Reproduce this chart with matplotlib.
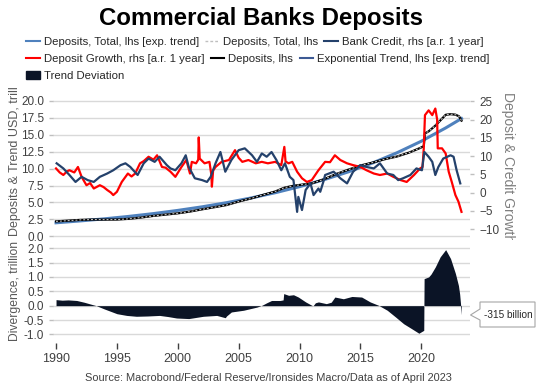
import numpy as np
import matplotlib.pyplot as plt
from matplotlib.lines import Line2D
from matplotlib.patches import Patch, Polygon
from matplotlib.transforms import Bbox, TransformedBbox

plt.rcParams['font.family'] = ['Liberation Sans', 'DejaVu Sans']

# deposits level (trillion USD, lhs)
dep_years = [1990, 1991, 1992, 1993, 1994, 1995, 1996, 1997, 1998, 1999, 2000, 2001, 2002,
             2003, 2004, 2005, 2006, 2007, 2008, 2008.75, 2009.5, 2010.5, 2011, 2012, 2013,
             2014, 2015, 2016, 2017, 2018, 2019, 2019.9, 2020.2, 2020.3, 2020.6, 2021.15,
             2021.55, 2022.0, 2022.4, 2022.8, 2023.1, 2023.3]
deposits = [2.21, 2.32, 2.43, 2.48, 2.47, 2.48, 2.59, 2.78, 3.02, 3.21, 3.40, 3.66, 3.99,
            4.30, 4.62, 5.14, 5.59, 6.12, 6.62, 7.18, 7.47, 7.71, 7.82, 8.43, 9.20,
            9.84, 10.46, 10.89, 11.39, 11.79, 12.37, 13.05, 13.32, 15.21, 15.50, 16.35,
            17.10, 17.95, 18.04, 17.97, 17.73, 17.09]

# exponential trend (lhs)
trend_years = [1990, 1992, 1994, 1996, 1998, 2000, 2002, 2004, 2006, 2008, 2010, 2012,
               2014, 2016, 2018, 2020, 2022, 2023.3]
trend = [2.00, 2.28, 2.59, 2.95, 3.36, 3.83, 4.36, 4.97, 5.66, 6.44, 7.34, 8.36,
         9.52, 10.84, 12.34, 14.05, 16.01, 17.40]

# deposit growth, % a.r. 1 year (rhs)
gr_years = [1990.0, 1990.3, 1990.6, 1990.9, 1991.1, 1991.5, 1991.8, 1992.1, 1992.5, 1992.8,
            1993.1, 1993.6, 1993.9, 1994.2, 1994.5, 1994.7, 1995.0, 1995.4, 1995.9, 1996.2,
            1996.5, 1996.9, 1997.2, 1997.6, 1998.0, 1998.3, 1998.7, 1999.0, 1999.4, 1999.8,
            2000.3, 2000.7, 2001.0, 2001.15, 2001.5, 2001.68, 2001.72, 2001.8, 2002.2, 2002.6,
            2002.75, 2002.8, 2002.9, 2003.1, 2003.6, 2004.2, 2004.7, 2005.0, 2005.3, 2005.8,
            2006.4, 2006.9, 2007.4, 2008.0, 2008.5, 2008.75, 2008.85, 2009.1, 2009.4, 2009.8,
            2010.2, 2010.6, 2011.0, 2011.55, 2012.1, 2012.5, 2012.9, 2013.35, 2013.9, 2014.4,
            2015.0, 2015.5, 2016.1, 2016.6, 2017.2, 2017.7, 2018.3, 2018.8, 2019.4, 2019.9,
            2020.1, 2020.2, 2020.3, 2020.6, 2020.9, 2021.15, 2021.3, 2021.35, 2021.7, 2022.0,
            2022.25, 2022.5, 2022.8, 2023.05, 2023.3]
dep_growth = [6.6, 5.5, 4.8, 5.8, 6.1, 5.5, 7.0, 4.3, 2.0, 2.6,
              1.1, 2.0, 1.5, 0.7, 0.0, -0.7, 0.2, 2.9, 5.2, 4.4,
              5.2, 8.0, 8.6, 9.8, 9.0, 10.2, 7.0, 6.8, 5.7, 4.3,
              7.0, 8.9, 5.2, 8.4, 8.0, 9.0, 15.1, 9.3, 8.0, 8.4,
              5.0, 1.6, 6.0, 7.0, 8.4, 8.9, 11.6, 9.5, 8.4, 8.9,
              8.0, 8.4, 8.0, 8.4, 7.5, 12.5, 8.5, 8.0, 8.4, 5.7,
              3.9, 2.9, 3.4, 6.1, 8.4, 8.3, 10.2, 8.9, 8.0, 7.5,
              7.0, 6.1, 5.2, 4.8, 5.2, 4.3, 3.4, 2.9, 4.8, 6.6,
              7.0, 12.0, 21.2, 22.5, 21.2, 23.0, 20.0, 12.1, 12.1, 10.7,
              5.7, 2.9, -0.7, -2.5, -5.3]

# bank credit, % a.r. 1 year (rhs)
bc_years = [1990.05, 1990.6, 1991.1, 1991.6, 1992.1, 1992.6, 1993.1, 1993.6, 1994.2, 1994.7,
            1995.3, 1995.7, 1996.1, 1996.7, 1997.2, 1997.6, 1998.1, 1998.5, 1999.1, 1999.4,
            1999.8, 2000.3, 2000.65, 2000.9, 2001.4, 2002.0, 2002.4, 2002.7, 2003.1, 2003.5,
            2003.9, 2004.4, 2005.0, 2005.5, 2006.1, 2006.5, 2006.9, 2007.3, 2007.7, 2008.1,
            2008.5, 2008.8, 2009.2, 2009.5, 2009.8, 2009.9, 2010.2, 2010.5, 2010.9, 2011.15,
            2011.55, 2011.7, 2011.95, 2012.1, 2012.8, 2013.35, 2013.9, 2014.4, 2015.0, 2015.5,
            2016.1, 2016.6, 2017.2, 2017.7, 2018.1, 2018.5, 2019.1, 2019.6, 2020.05, 2020.25,
            2020.6, 2020.9, 2021.15, 2021.4, 2021.8, 2022.4, 2022.65, 2022.9, 2023.2]
bank_credit = [8.0, 6.6, 4.8, 2.9, 4.3, 3.4, 2.9, 4.3, 5.2, 6.1,
               7.5, 8.0, 7.0, 4.8, 8.0, 9.3, 8.4, 9.8, 7.5, 6.6,
               6.1, 8.0, 10.2, 7.0, 3.9, 3.4, 2.9, 4.3, 8.0, 11.1,
               5.7, 8.9, 11.6, 12.1, 10.2, 8.4, 10.7, 9.8, 11.1, 8.9,
               6.1, 8.0, 4.3, 3.4, -5.3, -1.2, -4.8, 0.7, 2.5, -0.7,
               1.1, 0.2, 2.9, 4.8, 5.7, 3.9, 2.5, 5.7, 7.5, 7.0,
               6.6, 8.0, 5.2, 4.8, 3.4, 3.9, 4.8, 6.6, 6.1, 11.1,
               9.8, 8.4, 4.8, 7.0, 9.3, 10.2, 9.8, 6.1, 2.5]

# trend deviation, trillion
dev_years = [1990.0, 1990.5, 1991.0, 1991.7, 1992.3, 1992.8, 1993.3, 1994.0, 1995.0, 1995.8,
             1996.6, 1997.5, 1998.5, 1999.2, 1999.9, 2000.9, 2001.5, 2002.1, 2003.2, 2003.9,
             2004.0, 2004.4, 2005.4, 2006.5, 2006.9, 2007.3, 2007.7, 2008.4, 2008.65, 2008.7,
             2009.1, 2009.5, 2009.9, 2010.5, 2011.1, 2011.3, 2011.55, 2012.2, 2012.6, 2012.9,
             2013.6, 2014.3, 2015.1, 2015.8, 2016.5, 2017.2, 2017.9, 2018.55, 2019.2, 2019.8,
             2020.2, 2020.23, 2020.6, 2020.8, 2021.15, 2021.55, 2022.0, 2022.4, 2022.8, 2023.05,
             2023.15, 2023.3]
deviation = [0.21, 0.19, 0.20, 0.18, 0.12, 0.06, 0.0, -0.12, -0.28, -0.34,
             -0.37, -0.36, -0.34, -0.38, -0.43, -0.45, -0.41, -0.37, -0.34, -0.42,
             -0.36, -0.22, -0.16, -0.05, 0.01, 0.10, 0.18, 0.18, 0.20, 0.42,
             0.36, 0.38, 0.30, 0.13, -0.01, 0.10, 0.13, 0.07, 0.12, 0.30,
             0.24, 0.32, 0.30, 0.13, 0.01, -0.16, -0.40, -0.63, -0.80, -0.96,
             -0.86, 0.94, 1.00, 1.10, 1.35, 1.70, 1.95, 1.64, 1.12, 0.70,
             0.40, -0.315]

xticks = [1990, 1995, 2000, 2005, 2010, 2015, 2020]

RED = '#FF0000'
CREDIT = '#24416B'
TREND = '#4F81BD'
TREND2 = '#3D5A94'
DEVC = '#0B1426'
TXT = '#404040'
GRID = '#D9D9D9'

W, H = 548, 392
fig = plt.figure(figsize=(W / 100, H / 100), dpi=100)
ax = fig.add_axes([0.0967, 0.385, 0.761, 0.380])
axr = ax.twinx()
axb = fig.add_axes([0.0967, 0.125, 0.761, 0.255], sharex=ax)

# top panel
ax.plot(trend_years, trend, color=TREND, lw=2.2, zorder=3)
ax.plot(dep_years, deposits, color='black', lw=1.6, zorder=4)
ax.plot(dep_years, deposits, color='#D0D0D0', lw=0.7, ls=(0, (2, 2)), zorder=5)
axr.plot(gr_years, dep_growth, color=RED, lw=1.6)
axr.plot(bc_years, bank_credit, color=CREDIT, lw=1.6)

ax.set_ylim(-0.7, 21.3)
ax.set_yticks(np.arange(0, 20.1, 2.5))
ax.set_yticklabels(['%.1f' % v for v in np.arange(0, 20.1, 2.5)])
axr.set_ylim(-13.3, 27.5)
axr.set_yticks(np.arange(-10, 26, 5))
ax.grid(axis='y', color=GRID, lw=1)
ax.set_axisbelow(True)

for a in (ax, axr, axb):
    for s in a.spines.values():
        s.set_visible(False)

ax.tick_params(axis='x', bottom=False, labelbottom=False)
ax.tick_params(axis='y', labelsize=8.5, labelcolor=TXT, color='#BFBFBF', length=3, width=1)
axr.tick_params(axis='y', labelsize=8.5, labelcolor=TXT, color='#BFBFBF', length=3, width=1)

# bottom panel
axb.fill_between(dev_years, deviation, 0, color=DEVC, lw=0)
axb.set_ylim(-1.3, 2.18)
axb.set_yticks(np.arange(-1.0, 2.01, 0.5))
axb.set_yticklabels(['%.1f' % v for v in np.arange(-1.0, 2.01, 0.5)])
axb.grid(axis='y', color=GRID, lw=1)
axb.set_axisbelow(True)
axb.set_xlim(1989.75, 2024.0)
axb.set_xticks(xticks)
axb.tick_params(axis='y', labelsize=8.5, labelcolor=TXT, color='#BFBFBF', length=3, width=1)
axb.tick_params(axis='x', labelsize=9, labelcolor=TXT, color='#404040', length=4, width=1, pad=3)

# axis labels, clipped like the original
lab1 = fig.text(15 / W, 1 - 236 / H, 'Deposits & Trend USD, trillion', rotation=90,
                ha='center', va='bottom', fontsize=9, color='#595959')
lab1.set_clip_box(TransformedBbox(Bbox([[0, 0], [1, 1 - 88 / H]]), fig.transFigure))
lab1.set_clip_on(True)
fig.text(15 / W, 1 - 291 / H, 'Divergence, trillion', rotation=90,
         ha='center', va='center', fontsize=8.7, color='#595959')
lab3 = fig.text(508 / W, 1 - 92 / H, 'Deposit & Credit Growth', rotation=270,
                ha='center', va='top', fontsize=10, color='#7F7F7F')
lab3.set_clip_box(TransformedBbox(Bbox([[0, 1 - 240 / H], [1, 1]]), fig.transFigure))
lab3.set_clip_on(True)

# callout box with pointer
pts = [(480, 302), (535, 302), (535, 327), (480, 327), (480, 320), (470.5, 315), (480, 309)]
fig.patches.append(Polygon([(x / W, 1 - y / H) for x, y in pts], closed=True,
                           transform=fig.transFigure, fc='white', ec='#A6A6A6', lw=0.8))
fig.text(508 / W, 1 - 314.5 / H, '-315 billion', ha='center', va='center', fontsize=7.2,
         color='#262626')

# title and legend
fig.text(261 / W, 1 - 18 / H, 'Commercial Banks Deposits', ha='center', va='center',
         fontsize=17.3, weight='bold', color='black')

h1 = Line2D([], [], color=TREND, lw=1.5)
h2 = Line2D([], [], color='#BFBFBF', lw=1, ls=(0, (2, 1.5)))
h3 = Line2D([], [], color=CREDIT, lw=1.5)
h4 = Line2D([], [], color=RED, lw=1.5)
h5 = Line2D([], [], color='black', lw=1.5)
h6 = Line2D([], [], color=TREND2, lw=1.5)
h7 = Patch(color=DEVC)
rows = [
    ([h1, h2, h3], ['Deposits, Total, lhs [exp. trend]', 'Deposits, Total, lhs',
                    'Bank Credit, rhs [a.r. 1 year]'], 0.905),
    ([h4, h5, h6], ['Deposit Growth, rhs [a.r. 1 year]', 'Deposits, lhs',
                    'Exponential Trend, lhs [exp. trend]'], 0.862),
    ([h7], ['Trend Deviation'], 0.819),
]
for hs, ls, yy in rows:
    lg = fig.legend(hs, ls, loc='upper left', bbox_to_anchor=(0.048, yy), ncol=len(hs),
                    frameon=False, fontsize=8.2, handlelength=1.2, handletextpad=0.35,
                    columnspacing=0.55, borderaxespad=0, borderpad=0, handleheight=0.75)
    for t in lg.get_texts():
        t.set_color('#262626')

fig.text(268 / W, 1 - 378 / H,
         'Source: Macrobond/Federal Reserve/Ironsides Macro/Data as of April 2023',
         ha='center', va='center', fontsize=7.9, color=TXT)

fig.savefig('out.png', dpi=100)
